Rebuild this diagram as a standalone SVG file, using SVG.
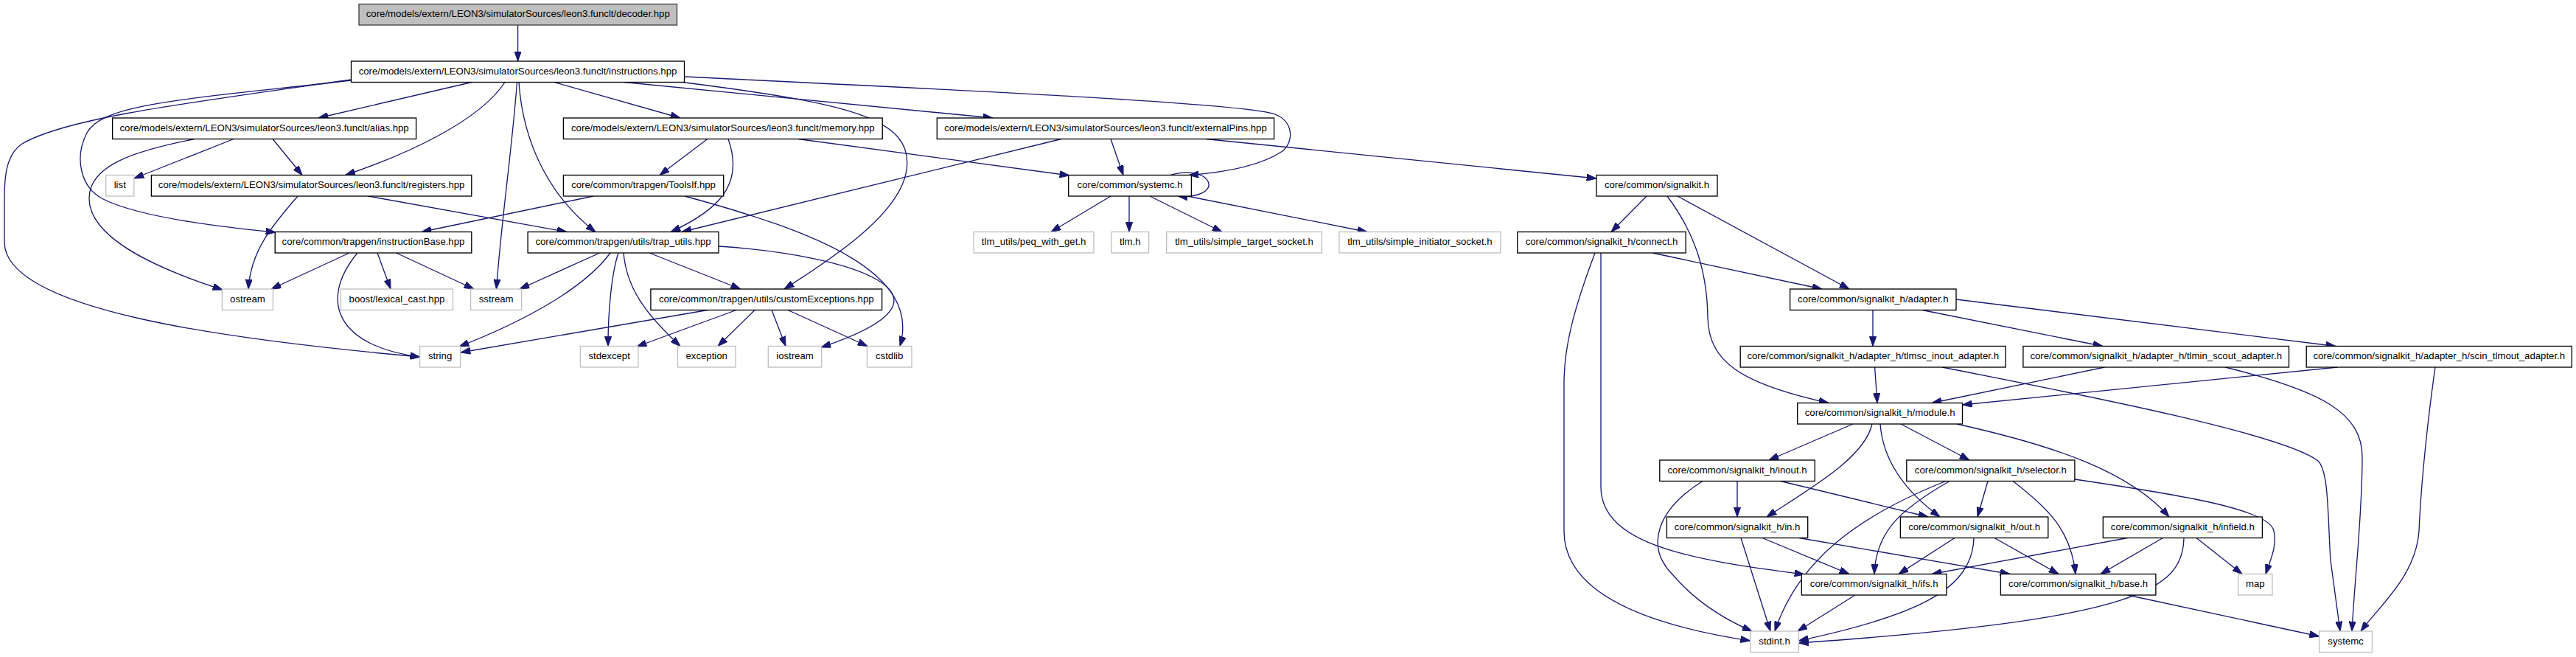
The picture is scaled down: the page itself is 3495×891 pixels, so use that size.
<svg xmlns="http://www.w3.org/2000/svg" width="3495" height="891" viewBox="0 0 3495 891">
<style>
.n rect{fill:#fff;stroke:#000;stroke-width:1.33}
.n.main rect{fill:#bfbfbf;stroke:#404040}
.n.ext rect{stroke:#bfbfbf}
.n text{font-family:"Liberation Sans",Arial,Helvetica,sans-serif;font-size:13.2px;text-anchor:middle;fill:#000}
#edges path{fill:none;stroke:#191970;stroke-width:1.33;marker-end:url(#ah)}
</style>
<defs>
<marker id="ah" viewBox="0 0 13.3 9.3" refX="13.3" refY="4.65" markerWidth="13.3" markerHeight="9.3" orient="auto" markerUnits="userSpaceOnUse">
<path d="M0,0 L13.3,4.65 L0,9.3 z" fill="#191970" stroke="#191970" stroke-width="1"/>
</marker>
</defs>
<rect width="3495" height="891" fill="#fff"/>
<g id="edges">
<path d="M702.6,34 L702.6,83"/>
<path d="M640,111.5 L432,160"/>
<path d="M685,111.5 C650,165 550,210 468.6,237.5"/>
<path d="M752,111.5 L923,160"/>
<path d="M847,111.5 L1347,160"/>
<path d="M926,111.5 C1150,140 1240,160 1230,230 C1222,290 1130,350 1064,392"/>
<path d="M928.4,104 C1300,122 1690,140 1730,155 C1755,165 1756,192 1740,205 C1710,225 1660,234 1613,237.5"/>
<path d="M476.5,108 C250,140 90,160 30,195 C8,210 6,240 6,270 L6,330 C10,420 300,460 569.6,484"/>
<path d="M476.5,109 C250,135 140,140 118,180 C100,215 110,255 140,270 C190,295 300,308 374,315"/>
<path d="M701.5,111.5 C695,200 680,300 673.5,392"/>
<path d="M704,111.5 C710,200 750,270 808,314.5"/>
<path d="M317,188.5 L181.8,242"/>
<path d="M370,188.5 L410,237.5"/>
<path d="M264,188.5 C180,205 120,225 121,270 C122,320 200,360 302,393"/>
<path d="M404,266 C370,305 340,340 337,392"/>
<path d="M499.5,266 L769,314.5"/>
<path d="M959.8,188.5 L895,237.5"/>
<path d="M988,188.5 C1010,250 975,285 910,314.5"/>
<path d="M1083,188.5 L1451,238"/>
<path d="M1440,188.5 L925,314.5"/>
<path d="M1507,188.5 L1524,237.5"/>
<path d="M1636,188.5 L2166,242"/>
<path d="M805,266 L572,314.5"/>
<path d="M929,266 C1110,315 1250,370 1221,469.5"/>
<path d="M1588,237.5 C1620,228 1642,240 1640,252 C1638,262 1620,268 1598,266"/>
<path d="M1507,266 L1426,314.5"/>
<path d="M1532,266 L1532,314.5"/>
<path d="M1560,266 L1658,314.5"/>
<path d="M1611,266 L1855,314.5"/>
<path d="M2234,266 L2186,314.5"/>
<path d="M2262,266 C2295,310 2316,360 2317,430 C2318,490 2360,520 2481,546.5"/>
<path d="M2276,266 L2509,392"/>
<path d="M2242,343 L2472,392"/>
<path d="M2164,343 C2135,420 2122,470 2122,520 L2122,720 C2122,810 2250,850 2374.7,869"/>
<path d="M2172,343 L2172,660 C2172,740 2300,760 2448,779"/>
<path d="M2541,420.5 L2541,469.5"/>
<path d="M2608,420.5 L2853,469.5"/>
<path d="M2654,406 L3169,469.5"/>
<path d="M2543.6,498 L2547,546.5"/>
<path d="M2635,498 C2850,540 3100,590 3145,625 C3160,640 3158,700 3162,760 L3175,856"/>
<path d="M2855.5,498 L2621,546.5"/>
<path d="M3019,498 C3150,530 3205,560 3205,620 C3205,700 3195,780 3191,856"/>
<path d="M3171.6,498 L2662.5,549"/>
<path d="M3304,498 C3295,560 3285,650 3282,720 C3278,780 3230,820 3203,856"/>
<path d="M2514,575 L2400,624"/>
<path d="M2540,575 C2530,620 2460,660 2397,701"/>
<path d="M2551,575 C2555,630 2590,670 2632,701"/>
<path d="M2579,575 L2672,624"/>
<path d="M2655,575 C2790,605 2890,640 2943,701"/>
<path d="M2357,652.5 L2357,701"/>
<path d="M2416,652.5 L2616,701"/>
<path d="M2310,652.5 C2250,690 2230,740 2270,780 C2300,815 2340,840 2377,856"/>
<path d="M2362,729.5 L2402,856"/>
<path d="M2391,729.5 L2509,778.5"/>
<path d="M2441,729.5 L2727,778.5"/>
<path d="M2697,652.5 L2683,701"/>
<path d="M2731,652.5 C2780,690 2810,720 2816,778.5"/>
<path d="M2815,650 C2950,670 3080,690 3085,720 C3090,740 3080,760 3074,778.5"/>
<path d="M2640,652.5 C2520,700 2440,760 2408,856"/>
<path d="M2645,652.5 C2580,690 2545,720 2543,778.5"/>
<path d="M2652,729.5 L2576,778.5"/>
<path d="M2706,729.5 L2793,778.5"/>
<path d="M2678,729.5 C2676,800 2600,835 2440.4,869"/>
<path d="M2886.6,729.5 L2621,778.5"/>
<path d="M2934.5,729.5 L2850,778.5"/>
<path d="M2980,729.5 L3042,778.5"/>
<path d="M2963,729.5 C2962,800 2900,840 2440.4,872"/>
<path d="M2517,807 L2439,856"/>
<path d="M2886.6,807 L3146.7,863"/>
<path d="M813.7,343 L705,392"/>
<path d="M828,343 C790,395 700,440 623,470"/>
<path d="M839,343 C830,370 825,420 825,469.5"/>
<path d="M846,343 C850,390 875,425 923,469.5"/>
<path d="M881,343 L1004.7,392"/>
<path d="M975,334 C1150,345 1330,400 1114,471"/>
<path d="M960,420.5 L625,478"/>
<path d="M999,420.5 L864,470"/>
<path d="M1024,420.5 L974,469.5"/>
<path d="M1047,420.5 L1066,469.5"/>
<path d="M1069,420.5 L1177,469.5"/>
<path d="M474,343 L368,392"/>
<path d="M485,343 C430,410 460,470 569.6,484"/>
<path d="M512,343 L530,392"/>
<path d="M537.6,343 L643,392"/>
</g>
<g id="n0" class="n main"><rect x="487" y="5.5" width="431.5" height="28.5"/><text x="702.75" y="23.3">core/models/extern/LEON3/simulatorSources/leon3.funclt/decoder.hpp</text></g>
<g id="n1" class="n"><rect x="476.5" y="83" width="452" height="28.5"/><text x="702.5" y="100.8">core/models/extern/LEON3/simulatorSources/leon3.funclt/instructions.hpp</text></g>
<g id="n2" class="n"><rect x="152.6" y="160" width="412" height="28.5"/><text x="358.6" y="177.8">core/models/extern/LEON3/simulatorSources/leon3.funclt/alias.hpp</text></g>
<g id="n3" class="n"><rect x="764.4" y="160" width="432.8" height="28.5"/><text x="980.8" y="177.8">core/models/extern/LEON3/simulatorSources/leon3.funclt/memory.hpp</text></g>
<g id="n4" class="n"><rect x="1271.3" y="160" width="457.3" height="28.5"/><text x="1499.95" y="177.8">core/models/extern/LEON3/simulatorSources/leon3.funclt/externalPins.hpp</text></g>
<g id="n5" class="n ext"><rect x="143.7" y="237.5" width="38.1" height="28.5"/><text x="162.75" y="255.3">list</text></g>
<g id="n6" class="n"><rect x="205.4" y="237.5" width="434.4" height="28.5"/><text x="422.6" y="255.3">core/models/extern/LEON3/simulatorSources/leon3.funclt/registers.hpp</text></g>
<g id="n7" class="n"><rect x="764.4" y="237.5" width="217.3" height="28.5"/><text x="873.05" y="255.3">core/common/trapgen/ToolsIf.hpp</text></g>
<g id="n8" class="n"><rect x="1449.7" y="237.5" width="166.7" height="28.5"/><text x="1533.05" y="255.3">core/common/systemc.h</text></g>
<g id="n9" class="n"><rect x="2166" y="237.5" width="164" height="28.5"/><text x="2248" y="255.3">core/common/signalkit.h</text></g>
<g id="n10" class="n"><rect x="373.2" y="314.5" width="266.6" height="28.5"/><text x="506.5" y="332.3">core/common/trapgen/instructionBase.hpp</text></g>
<g id="n11" class="n"><rect x="716.1" y="314.5" width="258.9" height="28.5"/><text x="845.55" y="332.3">core/common/trapgen/utils/trap_utils.hpp</text></g>
<g id="n12" class="n ext"><rect x="1321.2" y="314.5" width="162.8" height="28.5"/><text x="1402.6" y="332.3">tlm_utils/peq_with_get.h</text></g>
<g id="n13" class="n ext"><rect x="1508" y="314.5" width="50.6" height="28.5"/><text x="1533.3" y="332.3">tlm.h</text></g>
<g id="n14" class="n ext"><rect x="1582.7" y="314.5" width="210.6" height="28.5"/><text x="1688" y="332.3">tlm_utils/simple_target_socket.h</text></g>
<g id="n15" class="n ext"><rect x="1816.9" y="314.5" width="218.9" height="28.5"/><text x="1926.35" y="332.3">tlm_utils/simple_initiator_socket.h</text></g>
<g id="n16" class="n"><rect x="2058.8" y="314.5" width="228.4" height="28.5"/><text x="2173" y="332.3">core/common/signalkit_h/connect.h</text></g>
<g id="n17" class="n ext"><rect x="301.4" y="392" width="69" height="28.5"/><text x="335.9" y="409.8">ostream</text></g>
<g id="n18" class="n ext"><rect x="462.4" y="392" width="152.1" height="28.5"/><text x="538.45" y="409.8">boost/lexical_cast.hpp</text></g>
<g id="n19" class="n ext"><rect x="638.6" y="392" width="69.1" height="28.5"/><text x="673.15" y="409.8">sstream</text></g>
<g id="n20" class="n"><rect x="882.9" y="392" width="313.7" height="28.5"/><text x="1039.75" y="409.8">core/common/trapgen/utils/customExceptions.hpp</text></g>
<g id="n21" class="n"><rect x="2428.6" y="392" width="225.4" height="28.5"/><text x="2541.3" y="409.8">core/common/signalkit_h/adapter.h</text></g>
<g id="n22" class="n ext"><rect x="569.6" y="469.5" width="55" height="28.5"/><text x="597.1" y="487.3">string</text></g>
<g id="n23" class="n ext"><rect x="787.4" y="469.5" width="78.5" height="28.5"/><text x="826.65" y="487.3">stdexcept</text></g>
<g id="n24" class="n ext"><rect x="919.4" y="469.5" width="78.6" height="28.5"/><text x="958.7" y="487.3">exception</text></g>
<g id="n25" class="n ext"><rect x="1042.3" y="469.5" width="72.4" height="28.5"/><text x="1078.5" y="487.3">iostream</text></g>
<g id="n26" class="n ext"><rect x="1176.4" y="469.5" width="60.6" height="28.5"/><text x="1206.7" y="487.3">cstdlib</text></g>
<g id="n27" class="n"><rect x="2361.2" y="469.5" width="360" height="28.5"/><text x="2541.2" y="487.3">core/common/signalkit_h/adapter_h/tlmsc_inout_adapter.h</text></g>
<g id="n28" class="n"><rect x="2744.9" y="469.5" width="360.6" height="28.5"/><text x="2925.2" y="487.3">core/common/signalkit_h/adapter_h/tlmin_scout_adapter.h</text></g>
<g id="n29" class="n"><rect x="3129.2" y="469.5" width="360.1" height="28.5"/><text x="3309.25" y="487.3">core/common/signalkit_h/adapter_h/scin_tlmout_adapter.h</text></g>
<g id="n30" class="n"><rect x="2438.7" y="546.5" width="223.8" height="28.5"/><text x="2550.6" y="564.3">core/common/signalkit_h/module.h</text></g>
<g id="n31" class="n"><rect x="2251.8" y="624" width="210.5" height="28.5"/><text x="2357.05" y="641.8">core/common/signalkit_h/inout.h</text></g>
<g id="n32" class="n"><rect x="2586.8" y="624" width="228.1" height="28.5"/><text x="2700.85" y="641.8">core/common/signalkit_h/selector.h</text></g>
<g id="n33" class="n"><rect x="2261.4" y="701" width="191.3" height="28.5"/><text x="2357.05" y="718.8">core/common/signalkit_h/in.h</text></g>
<g id="n34" class="n"><rect x="2578.4" y="701" width="200.4" height="28.5"/><text x="2678.6" y="718.8">core/common/signalkit_h/out.h</text></g>
<g id="n35" class="n"><rect x="2853.3" y="701" width="216.1" height="28.5"/><text x="2961.35" y="718.8">core/common/signalkit_h/infield.h</text></g>
<g id="n36" class="n"><rect x="2444.3" y="778.5" width="196.7" height="28.5"/><text x="2542.65" y="796.3">core/common/signalkit_h/ifs.h</text></g>
<g id="n37" class="n"><rect x="2714.4" y="778.5" width="210.5" height="28.5"/><text x="2819.65" y="796.3">core/common/signalkit_h/base.h</text></g>
<g id="n38" class="n ext"><rect x="3036.7" y="778.5" width="46.3" height="28.5"/><text x="3059.85" y="796.3">map</text></g>
<g id="n39" class="n ext"><rect x="2374.7" y="856" width="65.7" height="28.5"/><text x="2407.55" y="873.8">stdint.h</text></g>
<g id="n40" class="n ext"><rect x="3146.7" y="856" width="71.7" height="28.5"/><text x="3182.55" y="873.8">systemc</text></g>
</svg>
